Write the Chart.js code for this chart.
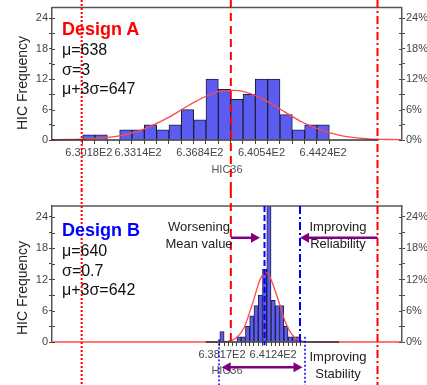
<!DOCTYPE html>
<html>
<head>
<meta charset="utf-8">
<script src="https://cdn.jsdelivr.net/npm/chart.js@4.4.0/dist/chart.umd.min.js"></script>
<style>
  body { margin: 0; background: #fff; font-family: "Liberation Sans", Arial, sans-serif; }
  #wrap { position: relative; width: 427px; height: 385px; overflow: hidden; }
  canvas { position: absolute; left: 0; }
  .t { position: absolute; white-space: nowrap; line-height: 1; color: #111; }
  .c { transform: translate(-50%, -50%); }
  .rot { transform: translate(-50%, -50%) rotate(-90deg); font-size: 14px; color: #222; }
  .stat { font-size: 16px; left: 62px; }
  .note { font-size: 13px; color: #222; }
</style>
</head>
<body>
<div id="wrap">
  <canvas id="chartA" width="427" height="190" style="top:0"></canvas>
  <canvas id="chartB" width="427" height="195" style="top:190px"></canvas>

  <div class="t rot" style="left:22px;top:83px">HIC Frequency</div>
  <div class="t rot" style="left:22px;top:288px">HIC Frequency</div>

  <div class="t" style="left:62px;top:20px;font-size:18px;font-weight:bold;color:#f00">Design A</div>
  <div class="t stat" style="top:42px">μ=638</div>
  <div class="t stat" style="top:62px">σ=3</div>
  <div class="t stat" style="top:81px">μ+3σ=647</div>

  <div class="t" style="left:62px;top:221px;font-size:18px;font-weight:bold;color:#00f">Design B</div>
  <div class="t stat" style="top:243px">μ=640</div>
  <div class="t stat" style="top:263px">σ=0.7</div>
  <div class="t stat" style="top:282px">μ+3σ=642</div>

  <div class="t c note" style="left:199px;top:226px">Worsening</div>
  <div class="t c note" style="left:199px;top:243px">Mean value</div>
  <div class="t c note" style="left:338px;top:226px">Improving</div>
  <div class="t c note" style="left:338px;top:243px">Reliability</div>
  <div class="t c note" style="left:338px;top:356px">Improving</div>
  <div class="t c note" style="left:338px;top:373px">Stability</div>
</div>
<script>
// shared x range (HIC36) and y range (count / percent of 100 samples)
const xMin = 627.97, xMax = 648.97;
const yMax = 26.1;
const yTicks = [0, 3, 6, 9, 12, 15, 18, 21, 24];

// Design A histogram
const binStartA = 630.18, binWidthA = 0.74;
const countsA = [1, 1, 0, 2, 2, 3, 2, 3, 6, 4, 12, 10, 8, 9, 12, 12, 5, 2, 3, 3];
const tickLabelsA = [630.18, 633.14, 636.84, 640.54, 644.24];
const fitXA = [628, 629, 630, 631, 632, 633, 634, 635, 636, 637, 638, 639, 640, 641, 642, 643, 644, 645, 646, 647, 648, 649];
const fitYA = [0.05, 0.1, 0.2, 0.4, 0.8, 1.6, 2.9, 4.5, 6.5, 8.3, 9.6, 9.8, 9.0, 7.4, 5.4, 3.5, 2.1, 1.1, 0.5, 0.2, 0.1, 0.05];

// Design B histogram
const binStartB = 638.17, binWidthB = 0.2558;
const countsB = [2, 0, 0, 0, 1, 1, 3, 5, 7, 9, 14, 30, 8, 7, 7, 3, 1, 1, 1];
const tickLabelsB = [638.17, 641.24];
const fitXB = [628, 637.5, 638, 638.5, 639, 639.5, 640, 640.5, 640.8, 641, 641.5, 642, 642.5, 643, 643.5, 644, 649];
const fitYB = [0, 0, 0.02, 0.1, 0.7, 2.8, 7.4, 12.3, 13.3, 12.8, 8.5, 3.6, 0.95, 0.16, 0.02, 0, 0];

// reference lines (HIC36 values)
const meanA = 638.7, lowA = 629.75, upperA = 647.5;
const meanB = 640.72, upperB = 642.85, spreadLowB = 637.99, spreadHighB = 643.15;

const RED = '#ff0000', BLUE = '#0000ff', PURPLE = '#800080';
const DOT = [2, 2], DASH = [8, 5], DASHDOT = [8, 3, 2, 3];

function mids(start, width, n) {
  return Array.from({length: n}, (_, i) => start + width * i);
}

function arrowHead(ctx, x, y, dir) {
  ctx.beginPath();
  ctx.moveTo(x, y);
  ctx.lineTo(x - dir * 9, y - 5);
  ctx.lineTo(x - dir * 9, y + 5);
  ctx.closePath();
  ctx.fill();
}

// frame top, inner ticks, baseline, vertical guides and arrows
const overlay = {
  id: 'overlay',
  afterDraw(chart, args, opts) {
    const {ctx, chartArea: a, scales: {x, y}} = chart;
    ctx.save();

    ctx.strokeStyle = '#555';
    ctx.lineWidth = 1.5;
    ctx.beginPath();
    ctx.moveTo(a.left, a.top);
    ctx.lineTo(a.right, a.top);
    ctx.stroke();

    ctx.strokeStyle = '#444';
    ctx.lineWidth = 1;
    yTicks.forEach(v => {
      const py = Math.round(y.getPixelForValue(v)) + 0.5;
      ctx.beginPath();
      ctx.moveTo(a.left, py); ctx.lineTo(a.left + 3, py);
      ctx.moveTo(a.right, py); ctx.lineTo(a.right - 3, py);
      ctx.stroke();
    });

    if (opts.baseline) {
      ctx.strokeStyle = '#333';
      ctx.lineWidth = 1.5;
      ctx.beginPath();
      ctx.moveTo(x.getPixelForValue(opts.baseline[0]), a.bottom);
      ctx.lineTo(x.getPixelForValue(opts.baseline[1]), a.bottom);
      ctx.stroke();
    }

    (opts.lines || []).forEach(l => {
      const px = x.getPixelForValue(l.value);
      const y0 = l.from == null ? 0 : y.getPixelForValue(l.from);
      const y1 = l.to == null ? chart.height : y.getPixelForValue(l.to);
      ctx.strokeStyle = l.color;
      ctx.lineWidth = l.width || 2;
      ctx.setLineDash(l.dash);
      ctx.beginPath();
      ctx.moveTo(px, y0);
      ctx.lineTo(px, y1);
      ctx.stroke();
    });
    ctx.setLineDash([]);

    (opts.arrows || []).forEach(ar => {
      const x0 = x.getPixelForValue(ar.from), x1 = x.getPixelForValue(ar.to);
      const py = y.getPixelForValue(ar.y);
      const dir = x1 > x0 ? 1 : -1;
      ctx.strokeStyle = PURPLE;
      ctx.fillStyle = PURPLE;
      ctx.lineWidth = 2.5;
      ctx.beginPath();
      ctx.moveTo(ar.both ? x0 + dir * 8 : x0, py);
      ctx.lineTo(x1 - dir * 8, py);
      ctx.stroke();
      arrowHead(ctx, x1, py, dir);
      if (ar.both) arrowHead(ctx, x0, py, -dir);
    });
    ctx.restore();
  }
};

function fmtTick(list) {
  return v => {
    const t = list.find(l => Math.abs(l - v) < 0.01);
    return t === undefined ? '' : (t / 100).toFixed(4) + 'E2';
  };
}

function makeChart(id, o) {
  const binMids = mids(o.binStart, o.binWidth, o.counts.length);
  return new Chart(document.getElementById(id), {
    type: 'bar',
    data: {
      datasets: [
        {
          type: 'line',
          data: o.fitX.map((v, i) => ({x: v, y: o.fitY[i]})),
          borderColor: '#ff4a4a',
          borderWidth: 1.3,
          pointRadius: 0,
          cubicInterpolationMode: 'monotone',
          clip: 4,
          order: 0
        },
        {
          data: binMids.map((v, i) => ({x: v, y: o.counts[i]})),
          backgroundColor: '#5c5cf0',
          borderColor: '#1e1e3c',
          borderWidth: 1,
          barPercentage: 1,
          categoryPercentage: 1,
          order: 1
        }
      ]
    },
    options: {
      responsive: false,
      animation: false,
      layout: {padding: {top: o.padTop, left: 0, right: 0, bottom: 0}},
      plugins: {
        legend: {display: false},
        tooltip: {enabled: false},
        overlay: {lines: o.lines, arrows: o.arrows, baseline: o.baseline}
      },
      scales: {
        x: {
          type: 'linear',
          min: xMin,
          max: xMax,
          offset: false,
          afterBuildTicks: s => { s.ticks = binMids.map(v => ({value: v})); },
          afterFit: s => { s.height = o.xHeight; },
          grid: {drawOnChartArea: false, tickLength: 4, color: '#444'},
          border: {display: false},
          ticks: {
            autoSkip: false, maxRotation: 0, minRotation: 0, padding: 2,
            color: '#444', font: {family: 'Liberation Sans', size: 11},
            callback: fmtTick(o.tickLabels)
          },
          title: {
            display: true, text: 'HIC36', color: '#555',
            font: {family: 'Liberation Sans', size: 11},
            padding: {top: 0, bottom: o.titlePad}
          }
        },
        y: {
          min: 0,
          max: yMax,
          afterBuildTicks: s => { s.ticks = yTicks.map(v => ({value: v})); },
          afterFit: s => { s.width = 52; },
          grid: {drawOnChartArea: false, tickLength: 3, color: '#444'},
          border: {color: '#555', width: 1.5},
          ticks: {
            padding: 1, color: '#444', font: {family: 'Liberation Sans', size: 11},
            callback: v => v % 6 === 0 ? String(v) : ''
          }
        },
        y2: {
          position: 'right',
          min: 0,
          max: yMax,
          afterBuildTicks: s => { s.ticks = yTicks.map(v => ({value: v})); },
          afterFit: s => { s.width = 25; },
          grid: {drawOnChartArea: false, tickLength: 3, color: '#444'},
          border: {color: '#555', width: 1.5},
          ticks: {
            padding: 1, color: '#444', font: {family: 'Liberation Sans', size: 11},
            callback: v => v % 6 === 0 ? v + '%' : ''
          }
        }
      }
    },
    plugins: [overlay]
  });
}

makeChart('chartA', {
  binStart: binStartA, binWidth: binWidthA, counts: countsA,
  tickLabels: tickLabelsA, fitX: fitXA, fitY: fitYA,
  padTop: 5, xHeight: 50, titlePad: 13,
  baseline: [xMin, upperA],
  lines: [
    {value: lowA, color: RED, dash: DOT},
    {value: meanA, color: RED, dash: DASH},
    {value: upperA, color: RED, dash: DASHDOT}
  ]
});

makeChart('chartB', {
  binStart: binStartB, binWidth: binWidthB, counts: countsB,
  tickLabels: tickLabelsB, fitX: fitXB, fitY: fitYB,
  padTop: 16, xHeight: 43, titlePad: 7,
  baseline: [637.2, 645.2],
  lines: [
    {value: lowA, color: RED, dash: DOT},
    {value: meanA, color: RED, dash: DASH, to: 0},
    {value: upperA, color: RED, dash: DASHDOT},
    {value: meanB, color: BLUE, dash: [6, 3], from: yMax, to: -0.6},
    {value: upperB, color: BLUE, dash: DASHDOT, from: yMax, to: 0},
    {value: spreadLowB, color: BLUE, dash: DOT, width: 1.5, from: 0.5},
    {value: spreadHighB, color: BLUE, dash: DOT, width: 1.5, from: 1}
  ],
  arrows: [
    {from: meanA, to: 640.45, y: 20},
    {from: upperA, to: upperB, y: 20},
    {from: 638.15, to: 643.0, y: -4.86, both: true}
  ]
});
</script>
</body>
</html>
